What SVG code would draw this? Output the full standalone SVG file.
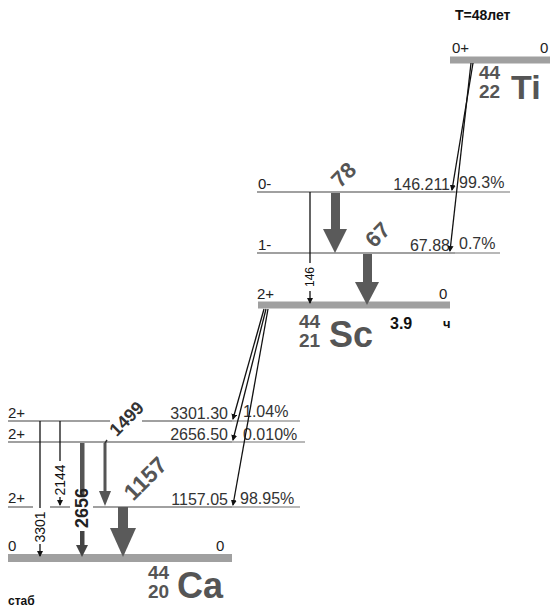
<svg xmlns="http://www.w3.org/2000/svg" width="552" height="609" viewBox="0 0 552 609">
<defs>
<marker id="sa" viewBox="0 0 6 6" refX="5" refY="3" markerWidth="6" markerHeight="6" markerUnits="userSpaceOnUse" orient="auto"><path d="M0,0 L6,3 L0,6 z" fill="#111"/></marker>
</defs>
<style>
text{font-family:"Liberation Sans",Arial,sans-serif}
.lv{stroke:#a0a0a0;stroke-width:2;fill:none}
.gs{stroke:#a0a0a0;stroke-width:7;fill:none}
.sp{font-size:15px;fill:#222}
.en{font-size:16px;fill:#333}
.th{stroke:#111;stroke-width:1.3;fill:none}
.ar{fill:#5a5a5a}
.nm{font-size:19px;fill:#555}
.el{font-size:34px;font-weight:bold;fill:#555}
</style>
<rect width="552" height="609" fill="#fff"/>

<g id="Ti">
<line class="gs" x1="450" y1="60" x2="550" y2="60"/>
<text x="452" y="53" class="sp">0+</text>
<text x="540" y="53" class="sp">0</text>
<text x="455" y="20" style="font-size:14px;font-weight:bold;fill:#111">T=48лет</text>
<text x="479" y="79" class="nm" style="font-size:19px;font-weight:bold">44</text>
<text x="479" y="98" class="nm" style="font-size:19px;font-weight:bold">22</text>
<text x="511" y="99" class="el" style="font-size:34px">Ti</text>
</g>

<g id="Sc146">
<line class="lv" x1="257" y1="192" x2="455" y2="192"/>
<line class="lv" x1="455" y1="192" x2="510" y2="192" style="stroke:#b8b8b8"/>
<text x="258" y="189" class="sp">0-</text>
<text x="450" y="190" class="en" text-anchor="end">146.211</text>
<text x="459" y="188" class="en">99.3%</text>
</g>

<g id="Sc68">
<line class="lv" x1="257" y1="253" x2="455" y2="253"/>
<line class="lv" x1="455" y1="253" x2="500" y2="253" style="stroke:#b8b8b8"/>
<text x="258" y="250" class="sp">1-</text>
<text x="450" y="251" class="en" text-anchor="end">67.88</text>
<text x="459" y="249" class="en">0.7%</text>
</g>

<g id="Sc">
<line class="gs" x1="258" y1="305" x2="450" y2="305"/>
<text x="257" y="299" class="sp">2+</text>
<text x="439" y="299" class="sp">0</text>
<text x="299" y="328" class="nm" style="font-size:19px;font-weight:bold">44</text>
<text x="299" y="347" class="nm" style="font-size:19px;font-weight:bold">21</text>
<text x="329" y="347" class="el" style="font-size:36px">Sc</text>
<text x="390" y="329" style="font-size:16px;font-weight:bold;fill:#111">3.9</text>
<text x="443" y="328" style="font-size:13px;font-weight:bold;fill:#111">ч</text>
</g>

<g id="Ca3301">
<line class="lv" x1="8" y1="421" x2="110" y2="421"/>
<line class="lv" x1="142" y1="421" x2="232" y2="421"/>
<line class="lv" x1="232" y1="421" x2="300" y2="421" style="stroke:#b8b8b8"/>
<text x="8" y="418" class="sp">2+</text>
<text x="228" y="419" class="en" text-anchor="end">3301.30</text>
<text x="243" y="417" class="en">1.04%</text>
</g>

<g id="Ca2656">
<line class="lv" x1="8" y1="442" x2="232" y2="442"/>
<line class="lv" x1="232" y1="442" x2="305" y2="442" style="stroke:#b8b8b8"/>
<text x="8" y="439" class="sp">2+</text>
<text x="228" y="440" class="en" text-anchor="end">2656.50</text>
<text x="243" y="440" class="en">0.010%</text>
</g>

<g id="Ca1157">
<line class="lv" x1="8" y1="507" x2="33" y2="507"/>
<line class="lv" x1="50" y1="507" x2="70" y2="507"/>
<line class="lv" x1="93" y1="507" x2="232" y2="507"/>
<line class="lv" x1="232" y1="507" x2="300" y2="507" style="stroke:#b8b8b8"/>
<text x="8" y="503" class="sp">2+</text>
<text x="228" y="505" class="en" text-anchor="end">1157.05</text>
<text x="240" y="504" class="en">98.95%</text>
</g>

<g id="Ca">
<line x1="8" y1="558" x2="232" y2="558" style="stroke:#a0a0a0;stroke-width:8"/>
<text x="8" y="551" class="sp">0</text>
<text x="216" y="551" class="sp">0</text>
<text x="148" y="579" class="nm" style="font-size:19px;font-weight:bold">44</text>
<text x="148" y="598" class="nm" style="font-size:19px;font-weight:bold">20</text>
<text x="177" y="598" class="el" style="font-size:36px">Ca</text>
<text x="8" y="605" style="font-size:12px;font-weight:bold;fill:#111">стаб</text>
</g>

<g id="connectors">
<line class="th" x1="473" y1="63" x2="452" y2="190" marker-end="url(#sa)"/>
<line class="th" x1="471" y1="63" x2="450" y2="251" marker-end="url(#sa)"/>
<line class="th" x1="264" y1="309" x2="233" y2="419" marker-end="url(#sa)"/>
<line class="th" x1="266" y1="309" x2="233" y2="440" marker-end="url(#sa)"/>
<line class="th" x1="268" y1="309" x2="233" y2="505" marker-end="url(#sa)"/>

<rect class="ar" x="331" y="193" width="9" height="37"/>
<polygon class="ar" points="323,229 347,229 335,253"/>
<text class="nm" transform="translate(349,180) rotate(-45)" text-anchor="middle" style="font-size:22px;font-weight:bold">78</text>
<rect class="ar" x="363" y="254" width="9" height="29"/>
<polygon class="ar" points="355,282 379,282 367,305"/>
<text class="nm" transform="translate(383,240) rotate(-45)" text-anchor="middle" style="font-size:22px;font-weight:bold">67</text>
<line class="th" x1="310" y1="192" x2="310" y2="263"/>
<text transform="translate(314,277) rotate(-90)" text-anchor="middle" style="font-size:12px;fill:#111">146</text>
<line class="th" x1="310" y1="291" x2="310" y2="303" marker-end="url(#sa)"/>

<line class="th" x1="40" y1="421" x2="40" y2="508"/>
<text transform="translate(45,527) rotate(-90)" text-anchor="middle" style="font-size:14px;fill:#111">3301</text>
<line class="th" x1="40" y1="544" x2="40" y2="556" marker-end="url(#sa)"/>

<line class="th" x1="60" y1="421" x2="60" y2="461"/>
<text transform="translate(65,480) rotate(-90)" text-anchor="middle" style="font-size:14px;fill:#111">2144</text>
<line class="th" x1="60" y1="497" x2="60" y2="505" marker-end="url(#sa)"/>

<rect x="80" y="443" width="4.5" height="53" fill="#555"/>
<text transform="translate(88,508) rotate(-90)" text-anchor="middle" style="font-size:18px;font-weight:bold;fill:#222">2656</text>
<rect x="80" y="531" width="4.5" height="16" fill="#444"/>
<polygon points="76,545 88,545 82,557" fill="#444"/>

<line x1="107" y1="440" x2="104.5" y2="444" style="stroke:#333;stroke-width:1.5"/>
<rect x="103.5" y="443" width="3" height="50" fill="#555"/>
<polygon points="99,491 111,491 105,506" fill="#555"/>
<text transform="translate(131,423) rotate(-45)" text-anchor="middle" style="font-size:18px;font-weight:bold;fill:#333">1499</text>

<rect class="ar" x="118" y="507" width="10" height="22"/>
<polygon class="ar" points="110,528 136,528 123,557"/>
<text transform="translate(151,484) rotate(-45)" text-anchor="middle" style="font-size:23px;font-weight:bold;fill:#555">1157</text>
</g>
</svg>
